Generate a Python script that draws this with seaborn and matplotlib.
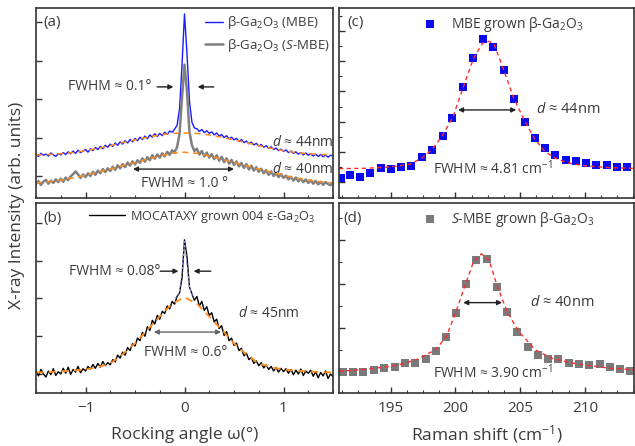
import numpy as np
import matplotlib
matplotlib.use("Agg")
import matplotlib.pyplot as plt
from matplotlib.ticker import MultipleLocator
import seaborn as sns

# ---- rocking curves (XRD), intensity in arb. units ----
omega = np.round(np.arange(121) * 0.025 - 1.5, 3)     # scan grid, deg
omega_fit = np.round(np.arange(25) * 0.125 - 1.5, 3)

mbe = [1.56, 1.51, 1.59, 1.54, 1.57, 1.52, 1.60, 1.55, 1.51, 1.58,
       1.55, 1.61, 1.56, 1.63, 1.58, 1.65, 1.59, 1.67, 1.61, 1.65,
       1.69, 1.62, 1.71, 1.66, 1.74, 1.69, 1.77, 1.71, 1.80, 1.75,
       1.83, 1.77, 1.86, 1.80, 1.89, 1.83, 1.92, 1.86, 1.95, 1.89,
       1.98, 1.92, 2.01, 1.95, 2.04, 1.97, 2.07, 2.01, 2.10, 2.03,
       2.11, 2.05, 2.14, 2.08, 2.17, 2.14, 2.22, 2.32, 2.75, 3.90,
       5.22,
       4.20, 2.95, 2.40, 2.25, 2.23, 2.16, 2.21, 2.13, 2.18, 2.11,
       2.15, 2.07, 2.12, 2.04, 2.08, 2.00, 2.05, 1.97, 2.01, 1.94,
       1.98, 1.90, 1.95, 1.87, 1.91, 1.84, 1.88, 1.81, 1.85, 1.78,
       1.82, 1.75, 1.79, 1.72, 1.76, 1.69, 1.73, 1.66, 1.70, 1.64,
       1.68, 1.61, 1.65, 1.59, 1.63, 1.57, 1.61, 1.55, 1.60, 1.54,
       1.58, 1.52, 1.57, 1.51, 1.56, 1.50, 1.55, 1.49, 1.54, 1.52]

smbe = [0.79, 0.87, 0.77, 0.85, 0.90, 0.80, 0.88, 0.82, 0.91, 0.84,
        0.93, 0.85, 0.96, 0.89, 0.99, 1.05, 1.12, 1.04, 0.95, 1.04,
        0.97, 1.07, 1.00, 1.11, 1.03, 1.14, 1.07, 1.18, 1.10, 1.20,
        1.13, 1.24, 1.16, 1.28, 1.20, 1.31, 1.23, 1.35, 1.27, 1.38,
        1.30, 1.41, 1.34, 1.46, 1.37, 1.49, 1.41, 1.54, 1.45, 1.56,
        1.48, 1.59, 1.51, 1.63, 1.55, 1.67, 1.62, 1.75, 2.10, 3.05,
        3.90,
        3.20, 2.15, 1.80, 1.65, 1.71, 1.56, 1.65, 1.51, 1.61, 1.48,
        1.57, 1.44, 1.54, 1.40, 1.50, 1.36, 1.46, 1.32, 1.42, 1.29,
        1.38, 1.25, 1.34, 1.21, 1.31, 1.17, 1.27, 1.14, 1.23, 1.11,
        1.19, 1.07, 1.15, 1.03, 1.12, 1.00, 1.08, 0.97, 1.05, 0.95,
        1.01, 0.91, 0.98, 0.88, 0.96, 0.86, 0.93, 0.84, 0.91, 0.82,
        0.89, 0.80, 0.87, 0.78, 0.85, 0.77, 0.84, 0.79, 0.76, 0.83]

moca = [1.10, 0.95, 1.12, 1.00, 0.92, 1.08, 0.98, 1.14, 0.96, 1.06,
        1.00, 1.15, 1.02, 1.18, 0.99, 1.12, 1.05, 1.20, 1.03, 1.14,
        1.08, 1.20, 1.13, 1.25, 1.15, 1.28, 1.18, 1.33, 1.22, 1.30,
        1.24, 1.38, 1.32, 1.50, 1.42, 1.58, 1.50, 1.70, 1.62, 1.80,
        1.74, 1.95, 1.88, 2.10, 2.00, 2.25, 2.15, 2.42, 2.32, 2.55,
        2.45, 2.66, 2.60, 2.80, 2.72, 2.92, 2.85, 3.05, 3.15, 3.55,
        4.55,
        4.10, 3.30, 3.12, 2.95, 3.05, 2.80, 2.92, 2.68, 2.78, 2.55,
        2.62, 2.38, 2.45, 2.20, 2.28, 2.02, 2.12, 1.88, 1.95, 1.76,
        1.82, 1.62, 1.68, 1.48, 1.55, 1.38, 1.44, 1.28, 1.35, 1.22,
        1.30, 1.16, 1.24, 1.12, 1.20, 1.08, 1.17, 1.05, 1.15, 1.06,
        1.14, 1.02, 1.12, 0.98, 1.10, 1.00, 1.13, 0.96, 1.08, 1.02,
        1.10, 0.94, 1.06, 0.90, 1.04, 0.95, 1.08, 0.88, 1.00, 0.93]

mbe_fit = [1.55, 1.56, 1.58, 1.61, 1.66, 1.72, 1.79, 1.87, 1.94, 2.01, 2.07, 2.11, 2.12,
           2.11, 2.07, 2.01, 1.94, 1.87, 1.79, 1.72, 1.66, 1.61, 1.58, 1.56, 1.55]
smbe_fit = [0.82, 0.85, 0.89, 0.95, 1.02, 1.10, 1.18, 1.27, 1.35, 1.44, 1.52, 1.59, 1.62,
            1.59, 1.52, 1.44, 1.35, 1.27, 1.18, 1.10, 1.02, 0.95, 0.89, 0.85, 0.82]
moca_fit = [1.04, 1.05, 1.07, 1.09, 1.12, 1.18, 1.28, 1.52, 1.81, 2.17, 2.52, 2.86, 3.03,
            2.86, 2.52, 2.17, 1.81, 1.52, 1.28, 1.18, 1.12, 1.09, 1.07, 1.05, 1.04]
moca_peak_x = [-0.1, -0.075, -0.05, -0.025, 0.0, 0.025, 0.05, 0.075, 0.1]
moca_peak_fit = [3.00, 3.05, 3.20, 3.70, 4.50, 3.90, 3.30, 3.10, 3.00]

# ---- Raman (c) MBE, (d) S-MBE ----
raman_c_x = [191.13, 191.85, 192.62, 193.38, 194.23, 195.00, 195.82, 196.59, 197.41, 198.20,
             199.00, 199.77, 200.56, 201.36, 202.15, 202.92, 203.72, 204.54, 205.36, 206.13,
             206.92, 207.72, 208.51, 209.31, 210.10, 210.90, 211.69, 212.49, 213.26]
raman_c_y = [0.13, 0.24, 0.18, 0.30, 0.46, 0.43, 0.51, 0.54, 0.82, 1.07,
             1.53, 2.13, 3.14, 4.11, 4.73, 4.46, 3.71, 2.75, 1.98, 1.47,
             1.14, 0.90, 0.74, 0.70, 0.63, 0.57, 0.58, 0.51, 0.51]
fit_c_x = [191.0, 193.0, 194.7, 195.8, 196.5, 197.4, 198.2, 199.0, 199.8, 200.6, 201.4, 202.1,
           202.6, 203.0, 203.7, 204.5, 205.4, 206.1, 206.9, 207.7, 208.5, 209.3, 210.1, 212.0, 213.8]
fit_c_y = [0.45, 0.46, 0.50, 0.55, 0.60, 0.80, 1.08, 1.55, 2.15, 3.14, 4.10, 4.60,
           4.66, 4.55, 3.75, 2.78, 1.98, 1.45, 1.02, 0.80, 0.66, 0.59, 0.54, 0.48, 0.46]

raman_d_x = [191.28, 192.10, 192.87, 193.69, 194.49, 195.31, 196.10, 196.90, 197.69, 198.46,
             199.26, 200.03, 200.82, 201.62, 202.41, 203.21, 204.00, 204.79, 205.62, 206.38,
             207.18, 207.95, 208.77, 209.56, 210.36, 211.15, 211.95, 212.74, 213.51]
raman_d_y = [1.00, 0.99, 0.99, 1.04, 1.08, 1.11, 1.19, 1.19, 1.30, 1.47,
             1.80, 2.33, 2.99, 3.53, 3.55, 2.92, 2.35, 1.91, 1.56, 1.37,
             1.28, 1.29, 1.19, 1.18, 1.16, 1.17, 1.11, 1.07, 1.02]
fit_d_x = [191.0, 192.5, 194.7, 196.0, 197.2, 198.5, 199.3, 200.0, 200.8, 201.4, 202.0,
           202.6, 203.2, 204.0, 204.9, 206.2, 207.5, 209.0, 210.0, 212.0, 213.8]
fit_d_y = [1.01, 1.04, 1.11, 1.18, 1.30, 1.51, 1.80, 2.33, 3.01, 3.50, 3.68,
           3.54, 2.97, 2.36, 1.91, 1.49, 1.30, 1.20, 1.15, 1.08, 1.04]

TXT = "#3a3a3a"
ORANGE = "#ff8c1a"
RED = "#ff2a2a"

sns.set_style("ticks")
plt.rcParams["font.family"] = ["Open Sans", "DejaVu Sans"]
plt.rcParams["mathtext.fontset"] = "custom"
plt.rcParams["mathtext.rm"] = "Open Sans"
plt.rcParams["mathtext.it"] = "Open Sans:italic"
plt.rcParams["text.color"] = TXT

W, H = 635, 446
fig = plt.figure(figsize=(W / 100, H / 100), dpi=100)


def box(x0, y0, x1, y1):
    return [x0 / W, 1 - y1 / H, (x1 - x0) / W, (y1 - y0) / H]


ax_a = fig.add_axes(box(36, 8, 333, 198))
ax_b = fig.add_axes(box(36, 203, 333, 393))
ax_c = fig.add_axes(box(339, 8, 634, 198))
ax_d = fig.add_axes(box(339, 203, 634, 393))

for ax in (ax_a, ax_b, ax_c, ax_d):
    for s in ax.spines.values():
        s.set_color("#333333")
        s.set_linewidth(1.2)
    ax.tick_params(which="both", direction="in", colors="#333333", labelcolor=TXT,
                   labelsize=11, labelleft=False, top=False, right=False)
    ax.tick_params(which="major", length=4, width=1)
    ax.tick_params(which="minor", length=2.5, width=0.8)

arrow_kw = dict(arrowstyle="-|>", color="#222222", lw=1, mutation_scale=7,
                shrinkA=0, shrinkB=0)
dbl_kw = dict(arrowstyle="<|-|>", color="#222222", lw=1, mutation_scale=7,
              shrinkA=0, shrinkB=0)

# ---------- (a) ----------
sns.lineplot(x=omega, y=mbe, ax=ax_a, color="#1a1aff", lw=1.0, label=r"β-Ga$_2$O$_3$ (MBE)")
sns.lineplot(x=omega, y=smbe, ax=ax_a, color="#808080", lw=1.8,
             label=r"β-Ga$_2$O$_3$ ($S$-MBE)")
sns.lineplot(x=omega_fit, y=mbe_fit, ax=ax_a, color=ORANGE, lw=1.1, ls=(0, (4, 3)))
sns.lineplot(x=omega_fit, y=smbe_fit, ax=ax_a, color=ORANGE, lw=1.1, ls=(0, (4, 3)))
ax_a.set_xlim(-1.5, 1.5)
ax_a.set_ylim(0.427, 5.375)
ax_a.legend(loc="upper right", bbox_to_anchor=(1.03, 1.03), frameon=False, fontsize=9.5,
            handlelength=1.3, handletextpad=0.35, labelspacing=0.45, labelcolor=TXT)
ax_a.text(0.024, 0.926, "(a)", transform=ax_a.transAxes, fontsize=11, va="center")
ax_a.text(-0.33, 3.32, "FWHM ≈ 0.1°", fontsize=10, ha="right", va="center")
ax_a.annotate("", xy=(-0.112, 3.32), xytext=(-0.276, 3.32), arrowprops=arrow_kw)
ax_a.annotate("", xy=(0.133, 3.32), xytext=(0.296, 3.32), arrowprops=arrow_kw)
ax_a.annotate("", xy=(-0.52, 1.18), xytext=(0.50, 1.18), arrowprops=dbl_kw)
ax_a.text(0.0, 0.80, "FWHM ≈ 1.0 °", fontsize=10, ha="center", va="center")
ax_a.text(0.88, 1.885, r"$d$ ≈ 44nm", fontsize=10, ha="left", va="center")
ax_a.text(0.88, 1.18, r"$d$ ≈ 40nm", fontsize=10, ha="left", va="center")

# ---------- (b) ----------
sns.lineplot(x=omega, y=moca, ax=ax_b, color="black", lw=1.0,
             label=r"MOCATAXY grown 004 ε-Ga$_2$O$_3$")
sns.lineplot(x=omega_fit, y=moca_fit, ax=ax_b, color=ORANGE, lw=1.3, ls=(0, (4, 3)))
sns.lineplot(x=moca_peak_x, y=moca_peak_fit, ax=ax_b, color="#9a9af0", lw=0.8, ls=(0, (2, 2)))
ax_b.set_xlim(-1.5, 1.5)
ax_b.set_ylim(0.497, 5.524)
ax_b.legend(loc="upper left", bbox_to_anchor=(0.14, 1.03), frameon=False, fontsize=9.2,
            handlelength=2.8, handletextpad=0.4, labelcolor=TXT)
ax_b.text(0.024, 0.916, "(b)", transform=ax_b.transAxes, fontsize=11, va="center")
ax_b.text(-0.245, 3.72, "FWHM ≈ 0.08°", fontsize=10, ha="right", va="center")
ax_b.annotate("", xy=(-0.061, 3.72), xytext=(-0.245, 3.72), arrowprops=arrow_kw)
ax_b.annotate("", xy=(0.092, 3.72), xytext=(0.265, 3.72), arrowprops=arrow_kw)
ax_b.annotate("", xy=(-0.31, 2.11), xytext=(0.37, 2.11),
              arrowprops=dict(dbl_kw, color="#666666"))
ax_b.text(0.01, 1.56, "FWHM ≈ 0.6°", fontsize=10, ha="center", va="center")
ax_b.text(0.54, 2.59, r"$d$ ≈ 45nm", fontsize=10, ha="left", va="center")
ax_b.set_xlabel("Rocking angle ω(°)", fontsize=12.5, color=TXT, labelpad=8)

for ax in (ax_a, ax_b):
    ax.xaxis.set_major_locator(MultipleLocator(1))
    ax.xaxis.set_minor_locator(MultipleLocator(0.25))
    ax.yaxis.set_major_locator(MultipleLocator(1))
ax_a.tick_params(labelbottom=False)
ax_b.tick_params(axis="x", pad=6)

# ---------- (c) ----------
sns.lineplot(x=fit_c_x, y=fit_c_y, ax=ax_c, color=RED, lw=1.0, ls=(0, (3, 2.5)))
sns.scatterplot(x=raman_c_x, y=raman_c_y, ax=ax_c, color="#0a0aee", marker="s", s=26,
                linewidth=0, label=r"MBE grown β-Ga$_2$O$_3$")
ax_c.set_xlim(191, 213.8)
ax_c.set_ylim(-0.521, 5.76)
ax_c.legend(loc="upper left", bbox_to_anchor=(0.22, 1.03), frameon=False, fontsize=10,
            handletextpad=0.5, labelcolor=TXT)
ax_c.text(0.03, 0.926, "(c)", transform=ax_c.transAxes, fontsize=11, va="center")
ax_c.annotate("", xy=(200.2, 2.39), xytext=(204.7, 2.39), arrowprops=dbl_kw)
ax_c.text(206.2, 2.39, r"$d$ ≈ 44nm", fontsize=10.5, ha="left", va="center")
ax_c.text(202.9, 0.44, r"FWHM ≈ 4.81 cm$^{-1}$", fontsize=10, ha="center", va="center")

# ---------- (d) ----------
sns.lineplot(x=fit_d_x, y=fit_d_y, ax=ax_d, color=RED, lw=1.0, ls=(0, (3, 2.5)))
sns.scatterplot(x=raman_d_x, y=raman_d_y, ax=ax_d, color="#7a7a7a", marker="s", s=26,
                linewidth=0, label=r"$S$-MBE grown β-Ga$_2$O$_3$")
ax_d.set_xlim(191, 213.8)
ax_d.set_ylim(0.516, 4.834)
ax_d.legend(loc="upper left", bbox_to_anchor=(0.22, 1.03), frameon=False, fontsize=10,
            handletextpad=0.5, labelcolor=TXT)
ax_d.text(0.015, 0.916, "(d)", transform=ax_d.transAxes, fontsize=11, va="center")
ax_d.annotate("", xy=(200.6, 2.57), xytext=(203.6, 2.57), arrowprops=dbl_kw)
ax_d.text(205.8, 2.57, r"$d$ ≈ 40nm", fontsize=10.5, ha="left", va="center")
ax_d.text(202.9, 0.97, r"FWHM ≈ 3.90 cm$^{-1}$", fontsize=10, ha="center", va="center")
ax_d.set_xlabel(r"Raman shift (cm$^{-1}$)", fontsize=12.5, color=TXT, labelpad=5)

for ax in (ax_c, ax_d):
    ax.xaxis.set_major_locator(MultipleLocator(5))
    ax.xaxis.set_minor_locator(MultipleLocator(1.25))
    ax.yaxis.set_major_locator(MultipleLocator(1))
    ax.yaxis.set_minor_locator(MultipleLocator(0.5))
ax_c.tick_params(labelbottom=False)
ax_d.tick_params(axis="x", pad=6)

fig.text(17 / W, 1 - 205 / H, "X-ray Intensity (arb. units)", rotation=90,
         ha="center", va="center", fontsize=12.5, color=TXT)

fig.savefig("out.png", dpi=100)
